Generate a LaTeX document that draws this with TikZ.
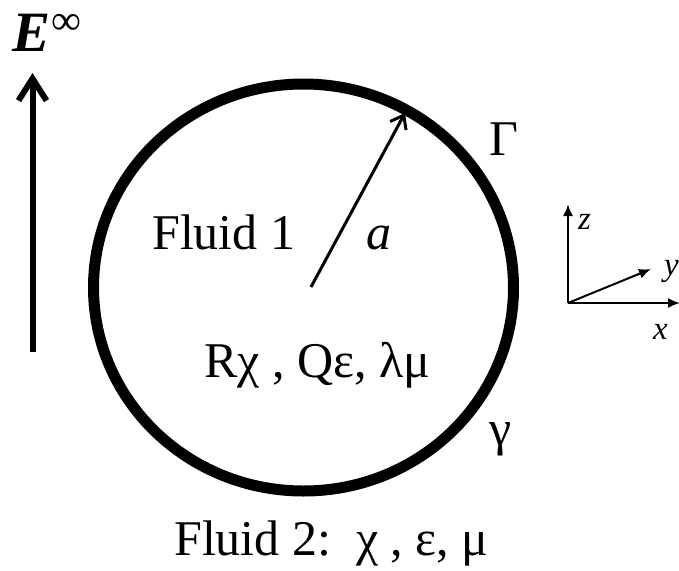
\documentclass[tikz,border=0pt]{standalone}
\usepackage{fontspec}
\setmainfont{Liberation Serif}
\usetikzlibrary{arrows.meta}
\begin{document}
\begin{tikzpicture}[x=1pt,y=-1pt,
  big/.style={font=\fontsize{50}{60}\selectfont, inner sep=0pt, anchor=base west},
  ax/.style={font=\fontsize{33}{38}\selectfont\itshape, inner sep=0pt, anchor=base west},
  axline/.style={line width=2pt, -{Latex[length=12pt,width=10pt]}}]
\useasboundingbox (0,0) rectangle (679,570);
% drop boundary
\coordinate (c) at (303.5,287.5);
\draw[line width=11pt] (c) ellipse [x radius=210pt, y radius=203.5pt];
% radius arrow
\coordinate (rt) at (311,287);
\coordinate (rh) at (405,113);
\draw[line width=3pt, -{Straight Barb[length=12pt,width=18pt,line width=3pt]}] (rt) -- (rh);
% field arrow
\coordinate (et) at (32.5,352);
\coordinate (eh) at (32.5,73);
\draw[line width=6pt, -{Straight Barb[length=22pt,width=28pt,line width=6pt]}] (et) -- (eh);
\node[inner sep=0pt, anchor=base west] (E) at (12,51)
  {\fontsize{57}{60}\selectfont\bfseries\itshape E\kern1pt\raisebox{17pt}[0pt][0pt]{\mdseries\upshape\fontsize{42}{42}\selectfont ∞}};
% labels
\node[big] (f1) at (152,249) {Fluid 1};
\node[big] (a) at (366,249) {\itshape a};
\node[big] (prop1) at (204,377) {Rχ , Qε, λμ};
\node[big] (G) at (489,155) {Γ};
\node[big] (g) at (489,445) {γ};
\node[big] (f2) at (174,555) {Fluid 2:\ \ χ , ε, μ};
% axes
\coordinate (o) at (568,303);
\coordinate (zt) at (568,204);
\coordinate (xt) at (680,303);
\coordinate (yt) at (651,269);
\draw[axline] (o) -- (zt);
\draw[axline] (o) -- (xt);
\draw[axline] (o) -- (yt);
\node[ax] (zl) at (578,229) {z};
\node[ax] (yl) at (664,275) {y};
\node[ax] (xl) at (653,339) {x};
\end{tikzpicture}
\end{document}
